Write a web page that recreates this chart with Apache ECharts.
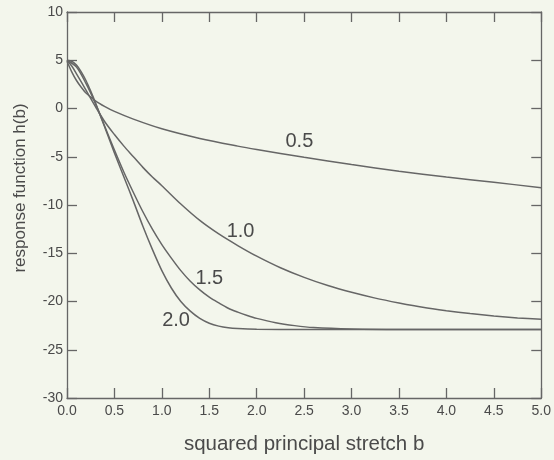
<!DOCTYPE html>
<html><head><meta charset="utf-8">
<script src="https://cdn.jsdelivr.net/npm/echarts@6/dist/echarts.min.js"></script>
<style>html,body{margin:0;padding:0;background:#f3f6ec;}#c{width:554px;height:460px;}</style>
</head><body><div id="c"></div>
<script>
const xTicks = [0,0.5,1,1.5,2,2.5,3,3.5,4,4.5,5];
const yTicks = [-30,-25,-20,-15,-10,-5,0,5,10];
const b05 = [[0,4.9],[0.05,3.8],[0.1,2.9],[0.15,2.2],[0.2,1.6],[0.3,0.8],[0.4,0.2],[0.5,-0.3],[0.7,-1.1],[1.0,-2.1],[1.4,-3.1],[1.8,-3.9],[2.0,-4.25],[2.5,-5.05],[3.0,-5.8],[3.5,-6.5],[4.0,-7.1],[4.5,-7.65],[5.0,-8.2]];
const b10 = [[0,5.0],[0.05,4.4],[0.1,3.6],[0.2,1.9],[0.3,0.2],[0.4,-1.4],[0.5,-2.7],[0.6,-3.9],[0.7,-5.0],[0.8,-6.1],[0.9,-7.1],[1.0,-8.0],[1.2,-9.9],[1.4,-11.6],[1.6,-13.0],[1.8,-14.2],[2.0,-15.3],[2.25,-16.5],[2.5,-17.5],[2.75,-18.35],[3.0,-19.05],[3.25,-19.65],[3.5,-20.15],[3.75,-20.6],[4.0,-20.95],[4.25,-21.25],[4.5,-21.5],[4.75,-21.7],[5.0,-21.85]];
const b15 = [[0,5.0],[0.1,4.3],[0.2,2.6],[0.3,0.5],[0.4,-1.9],[0.5,-4.3],[0.6,-6.6],[0.7,-8.7],[0.8,-10.7],[0.9,-12.5],[1.0,-14.1],[1.1,-15.5],[1.2,-16.8],[1.3,-17.9],[1.4,-18.8],[1.5,-19.55],[1.6,-20.15],[1.7,-20.7],[1.8,-21.1],[1.9,-21.45],[2.0,-21.75],[2.2,-22.2],[2.4,-22.5],[2.6,-22.7],[3.0,-22.85],[3.5,-22.9],[4.0,-22.9],[4.5,-22.9],[5.0,-22.9]];
const b20 = [[0,5.0],[0.05,4.9],[0.1,4.5],[0.15,3.8],[0.2,2.9],[0.25,1.8],[0.3,0.6],[0.4,-2.0],[0.5,-4.6],[0.6,-7.1],[0.7,-9.6],[0.8,-12.2],[0.9,-14.6],[1.0,-16.8],[1.1,-18.6],[1.2,-20.0],[1.3,-21.0],[1.4,-21.75],[1.5,-22.25],[1.6,-22.55],[1.7,-22.72],[1.8,-22.8],[2.0,-22.87],[2.5,-22.9],[3.0,-22.9],[4.0,-22.9],[5.0,-22.9]];
const curveNames = ['0.5','1.0','1.5','2.0'];
const labelPos = [[2.45,-3.4],[1.83,-12.7],[1.50,-17.6],[1.15,-22.0]];

const lineCol = '#666666', textCol = '#4a4a4a';
const font = 'Liberation Sans';
const chart = echarts.init(document.getElementById('c'));
const tickFmtX = v => v.toFixed(1);
function mkX(pos, show) {
  return {type:'value', position:pos, min:0, max:5, interval:0.5,
    axisLine:{show:true, onZero:false, lineStyle:{color:lineCol, width:1.3}},
    axisTick:{show:true, inside:true, length:10, lineStyle:{color:lineCol, width:1.3}},
    axisLabel:{show:show, formatter:tickFmtX, color:textCol, fontSize:14, fontFamily:font, margin:6},
    splitLine:{show:false},
    name: show ? 'squared principal stretch b' : '', nameLocation:'middle', nameGap:36,
    nameTextStyle:{color:textCol, fontSize:20.5, fontFamily:font}};
}
function mkY(pos, show) {
  return {type:'value', position:pos, min:-30, max:10, interval:5,
    axisLine:{show:true, onZero:false, lineStyle:{color:lineCol, width:1.3}},
    axisTick:{show:true, inside:true, length:10, lineStyle:{color:lineCol, width:1.3}},
    axisLabel:{show:show, color:textCol, fontSize:14, fontFamily:font, margin:4},
    splitLine:{show:false},
    name: show ? 'response function h(b)' : '', nameLocation:'middle', nameGap:38, nameRotate:90,
    nameTextStyle:{color:textCol, fontSize:17, fontFamily:font, padding:[0,0,0,34]}};
}
const datas = [b05,b10,b15,b20];
const series = datas.map((d,i) => ({
  type:'line', data:d, smooth:0.3, showSymbol:false, symbol:'none',
  lineStyle:{color:lineCol, width:1.5}, silent:true, animation:false,
  markPoint:{symbol:'circle', symbolSize:0, silent:true, animation:false,
    label:{show:true, formatter:curveNames[i], color:textCol, fontSize:20, fontFamily:font, position:'inside'},
    data:[{coord:labelPos[i]}]}
}));
chart.setOption({
  backgroundColor:'#f3f6ec',
  animation:false,
  grid:{left:67, right:11, top:12, bottom:60},
  xAxis:[mkX('bottom', true), mkX('top', false)],
  yAxis:[mkY('left', true), mkY('right', false)],
  series: series
});
</script></body></html>
